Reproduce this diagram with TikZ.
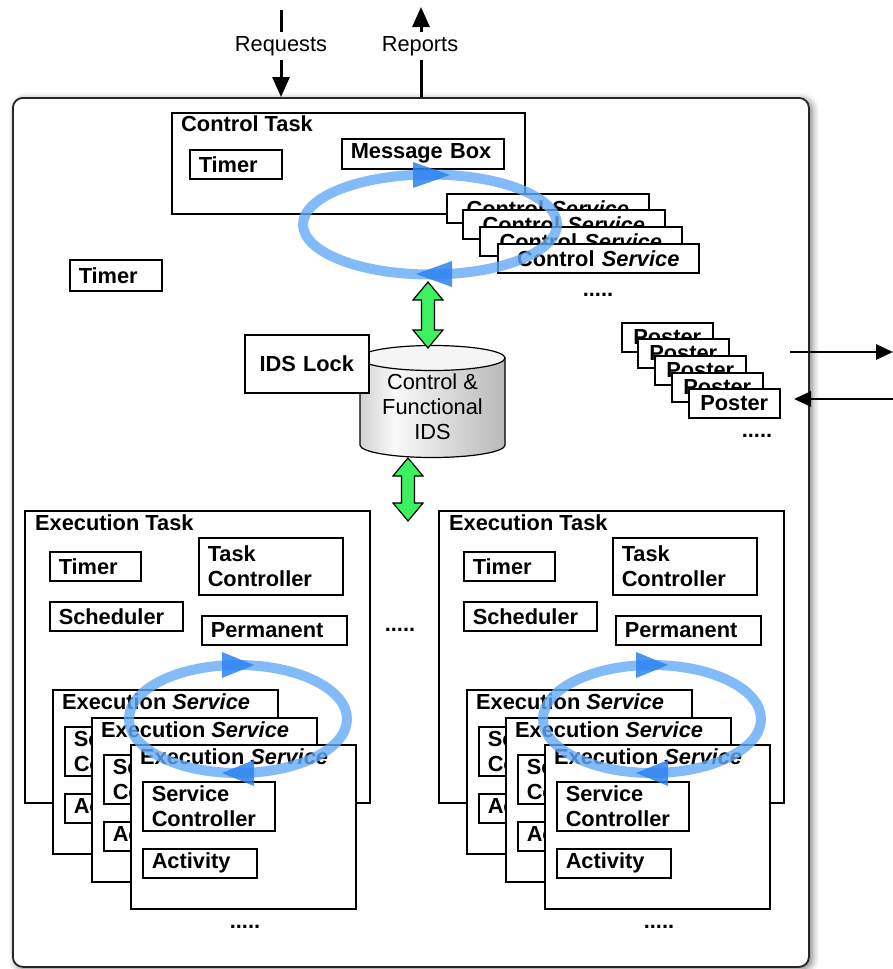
\documentclass[tikz,border=0pt]{standalone}
\usepackage{fontspec}
\setmainfont{Liberation Sans}
\usetikzlibrary{arrows.meta,shadows.blur}
\definecolor{ringblue}{RGB}{100,170,248}
\definecolor{headblue}{RGB}{45,130,240}
\definecolor{arrgreen}{RGB}{60,240,95}
\pgfdeclarehorizontalshading{cylshade}{100bp}{color(0bp)=(gray!35); color(25bp)=(gray!35); color(37bp)=(gray!5); color(75bp)=(gray!55); color(100bp)=(gray!55)}
\tikzset{
  lb/.style={font=\bfseries\fontsize{21.8}{25}\selectfont},
  rg/.style={font=\fontsize{21.8}{25}\selectfont},
  box/.style={draw=black, line width=1.5pt, fill=white, inner xsep=9pt, inner ysep=0pt, anchor=north west, lb},
  ring/.style={draw=ringblue, line width=10pt, opacity=0.8},
  ringhead/.style={fill=headblue, opacity=0.85},
  garrow/.style={draw=black, line width=1.2pt, fill=arrgreen, line join=miter},
  ar/.style={line width=3pt, draw=black},
  tip/.style={-{Triangle[length=20pt,width=17pt]}},
  ptip/.style={line width=2.8pt, -{Triangle[length=17pt,width=15pt]}},
  ttl/.style={lb, anchor=west, inner sep=0pt},
}
\newcommand\bx[7][left]{%
  \pgfmathsetmacro\bxw{(#5)-(#3)-18}\pgfmathsetmacro\bxh{(#6)-(#4)}%
  \node[box, align=#1, text width=\bxw pt, minimum height=\bxh pt] (#2) at (#3,#4) {#7};}
\newcommand\svc[3]{%
  \bx{#1}{#2}{#3}{#2+225}{#3+164}{}
  \node[ttl] (#1t) at (#2+10,#3+13) {Execution \textit{Service}};
  \bx{#1c}{#2+12}{#3+37}{#2+144}{#3+86}{Service\\Controller}
  \bx{#1a}{#2+12}{#3+104}{#2+126}{#3+133}{Activity}}
\newcommand\garr[3]{%
  \draw[garrow] (#1,#2) -- (#1+15,#2+18) -- (#1+6.5,#2+18) -- (#1+6.5,#3-18) -- (#1+15,#3-18) -- (#1,#3)
    -- (#1-15,#3-18) -- (#1-6.5,#3-18) -- (#1-6.5,#2+18) -- (#1-15,#2+18) -- cycle;}
\newcommand\etask[2]{%
  \bx{#1}{24+#2}{510}{369+#2}{802}{}
  \node[ttl] (#1t) at (35+#2,523) {Execution Task};
  \bx{#1tm}{49+#2}{551}{140+#2}{580}{Timer}
  \bx{#1tc}{198+#2}{537}{342+#2}{594}{Task\\Controller}
  \bx{#1sch}{49+#2}{601}{182+#2}{630}{Scheduler}
  \bx{#1pm}{201+#2}{615}{346+#2}{644}{Permanent}
  \svc{#1sa}{52+#2}{689}
  \svc{#1sb}{91+#2}{717}
  \svc{#1sc}{130+#2}{744}
  \draw[ring] (238+#2,719) ellipse [x radius=109, y radius=54];
  \fill[ringhead] (254+#2,665) -- (222+#2,652) -- (222+#2,678) -- cycle;
  \fill[ringhead] (222+#2,773) -- (254+#2,760) -- (254+#2,786) -- cycle;
  \node[lb] (#1dots) at (245+#2,927) {.....};}
\begin{document}
\begin{tikzpicture}[x=1pt,y=-1pt]
\useasboundingbox (0,0) rectangle (893,969);
% outer frame
\node[draw=black!85, line width=1.8pt, rounded corners=10pt, fill=white, anchor=north west,
  minimum width=796pt, minimum height=869pt, inner sep=0pt,
  blur shadow={shadow xshift=3pt, shadow yshift=-2pt, shadow blur radius=7pt, shadow opacity=55}]
  (frame) at (12,97) {};
% requests / reports
\coordinate (reqtop) at (281,10);
\coordinate (reptop) at (421,7);
\node[rg, minimum height=28pt, inner sep=0pt] (req) at (281,46) {Requests};
\node[rg, minimum height=28pt, inner sep=0pt] (rep) at (420,46) {Reports};
\draw[ar] (reqtop) -- (req.north);
\draw[ar, tip] (req.south) -- (req.south |- frame.north);
\draw[ar, tip] (rep.north -| reptop) -- (reptop);
\draw[ar] (rep.south -| reptop) -- (reptop |- frame.north);
% control task
\bx{ct}{171}{112}{524}{213}{}
\node[ttl] (ctt) at (181,124) {Control Task};
\bx{cttm}{189}{149}{281}{178}{Timer}
\bx{mb}{341}{138}{503}{168}{Message Box}
\bx[center]{cs1}{446}{193}{648}{222}{Control \textit{Service}}
\bx[center]{cs2}{462}{209}{664}{238}{Control \textit{Service}}
\bx[center]{cs3}{479}{226}{681}{255}{Control \textit{Service}}
\bx[center]{cs4}{497}{243}{698}{272}{Control \textit{Service}}
\node[lb] (csdots) at (598,295) {.....};
\draw[ring] (430,224.5) ellipse [x radius=127, y radius=50];
\fill[ringhead] (450,175) -- (413,162) -- (413,188) -- cycle;
\fill[ringhead] (416,274) -- (452,261) -- (452,287) -- cycle;
% timer
\bx{tm}{69}{259}{161}{290}{Timer}
% IDS cylinder
\shade[shading=cylshade, draw=black, line width=1.2pt]
  (360,358) -- (360,445) arc [start angle=180, end angle=0, x radius=72.5, y radius=12.5] -- (505,358) -- cycle;
\draw[fill=gray!8, line width=1.2pt] (432.5,358) ellipse [x radius=72.5, y radius=12.5];
\node[rg, align=center] (ids) at (432.5,407) {Control \&\\Functional\\IDS};
\bx[center]{lock}{244}{334}{368}{392}{IDS Lock}
\garr{428}{282}{348}
\garr{408}{458}{521}
% posters
\bx[center]{p1}{621}{322}{712}{351}{Poster}
\bx[center]{p2}{637}{338}{728}{367}{Poster}
\bx[center]{p3}{654}{355}{745}{384}{Poster}
\bx[center]{p4}{671}{372}{762}{401}{Poster}
\bx[center]{p5}{688}{388}{779}{417}{Poster}
\node[lb] (pdots) at (757,436) {.....};
\coordinate (po1) at (790,352);
\coordinate (po2) at (893,352);
\coordinate (pi1) at (893,399);
\coordinate (pi2) at (794,399);
\draw[ptip] (po1) -- (po2);
\draw[ptip] (pi1) -- (pi2);
% execution tasks
\etask{el}{0}
\etask{er}{414}
\node[lb] (mdots) at (400,630) {.....};
\end{tikzpicture}
\end{document}
